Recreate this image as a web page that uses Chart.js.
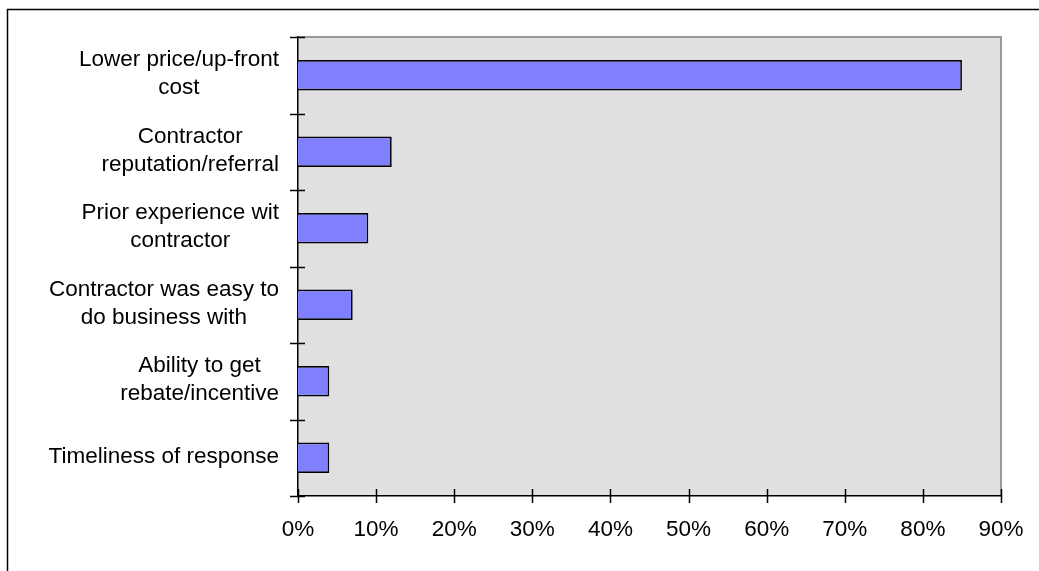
<!DOCTYPE html>
<html>
<head>
<meta charset="utf-8">
<script src="https://cdn.jsdelivr.net/npm/chart.js@4/dist/chart.umd.min.js"></script>
<style>
  html, body { margin: 0; padding: 0; background: #fff; }
  canvas { display: block; }
</style>
</head>
<body>
<canvas id="chart" width="1039" height="571"></canvas>
<script>
// Reasons given for choosing a contractor (share of respondents)
const categories = [
  ["Lower price/up-front", "cost"],
  ["Contractor", "reputation/referral"],
  ["Prior experience wit", "contractor"],
  ["Contractor was easy to", "do business with"],
  ["Ability to get", "rebate/incentive"],
  ["Timeliness of response"]
];
const shares = [85, 12, 9, 7, 4, 4];
const tickLabels = ["0%", "10%", "20%", "30%", "40%", "50%", "60%", "70%", "80%", "90%"];

const FONT = '"Liberation Sans", Arial, sans-serif';
const FONT_SIZE = 22.5;
const LINE_GAP = 28;

// Plot frame: page border, grey plot area, crossing tick marks and
// category labels (each block right-aligned, its lines centred).
const frame = {
  id: 'frame',
  beforeDraw(chart) {
    const { ctx, chartArea: { left, top, right, bottom } } = chart;
    ctx.save();
    ctx.fillStyle = '#fff';
    ctx.fillRect(0, 0, chart.width, chart.height);
    ctx.strokeStyle = '#000';
    ctx.lineWidth = 1.5;
    ctx.beginPath();
    ctx.moveTo(7.5, chart.height + 5);
    ctx.lineTo(7.5, 9.5);
    ctx.lineTo(chart.width + 5, 9.5);
    ctx.stroke();
    ctx.fillStyle = '#e0e0e0';
    ctx.fillRect(left, top, right - left, bottom - top);
    ctx.strokeStyle = '#999';
    ctx.lineWidth = 2;
    ctx.beginPath();
    ctx.moveTo(left, top);
    ctx.lineTo(right, top);
    ctx.lineTo(right, bottom);
    ctx.stroke();
    ctx.restore();
  },
  afterDraw(chart) {
    const { ctx, chartArea: { left, bottom } } = chart;
    const xs = chart.scales.x, ys = chart.scales.y;
    ctx.save();
    ctx.strokeStyle = '#000';
    ctx.lineWidth = 1.5;
    ctx.beginPath();
    xs.ticks.forEach((t, i) => {
      const px = Math.round(xs.getPixelForTick(i)) + 0.5;
      ctx.moveTo(px, bottom - 7);
      ctx.lineTo(px, bottom + 7);
    });
    const labels = ys.getLabels();
    for (let i = 0; i <= labels.length; i++) {
      const py = Math.round(ys.getPixelForValue(i - 0.5)) + 0.5;
      ctx.moveTo(left - 8, py);
      ctx.lineTo(left + 7, py);
    }
    ctx.stroke();

    ctx.fillStyle = '#000';
    ctx.font = FONT_SIZE + 'px ' + FONT;
    ctx.textAlign = 'center';
    ctx.textBaseline = 'alphabetic';
    const rightEdge = left - 19;
    labels.forEach((lines, i) => {
      const cy = ys.getPixelForValue(i);
      const w = Math.max(...lines.map(l => ctx.measureText(l).width));
      const cx = rightEdge - w / 2;
      const first = cy + 5 - (lines.length - 1) * LINE_GAP / 2;
      lines.forEach((l, j) => ctx.fillText(l, cx, first + j * LINE_GAP));
    });
    ctx.restore();
  }
};

new Chart(document.getElementById('chart'), {
  type: 'bar',
  data: {
    labels: categories,
    datasets: [{
      data: shares,
      backgroundColor: '#8080ff',
      borderColor: '#000',
      borderWidth: 1.7,
      barPercentage: 0.4,
      categoryPercentage: 1
    }]
  },
  options: {
    indexAxis: 'y',
    responsive: false,
    animation: false,
    devicePixelRatio: 1,
    layout: { padding: { left: 0, right: 38, top: 37, bottom: 0 } },
    plugins: { legend: { display: false }, tooltip: { enabled: false } },
    scales: {
      x: {
        type: 'linear',
        min: 0,
        max: 90,
        afterFit(s) { s.height = 75; s.paddingLeft = 0; s.paddingRight = 0; },
        grid: { display: false, drawTicks: false },
        border: { display: true, color: '#000', width: 1.5 },
        ticks: {
          stepSize: 10,
          padding: 20,
          color: '#000',
          font: { family: FONT, size: FONT_SIZE, lineHeight: 1.2 },
          callback: (v) => tickLabels[Math.round(v / 10)]
        }
      },
      y: {
        type: 'category',
        afterFit(s) { s.width = 298; },
        grid: { display: false, drawTicks: false },
        border: { display: true, color: '#000', width: 1.5 },
        ticks: { display: false }
      }
    }
  },
  plugins: [frame]
});
</script>
</body>
</html>
